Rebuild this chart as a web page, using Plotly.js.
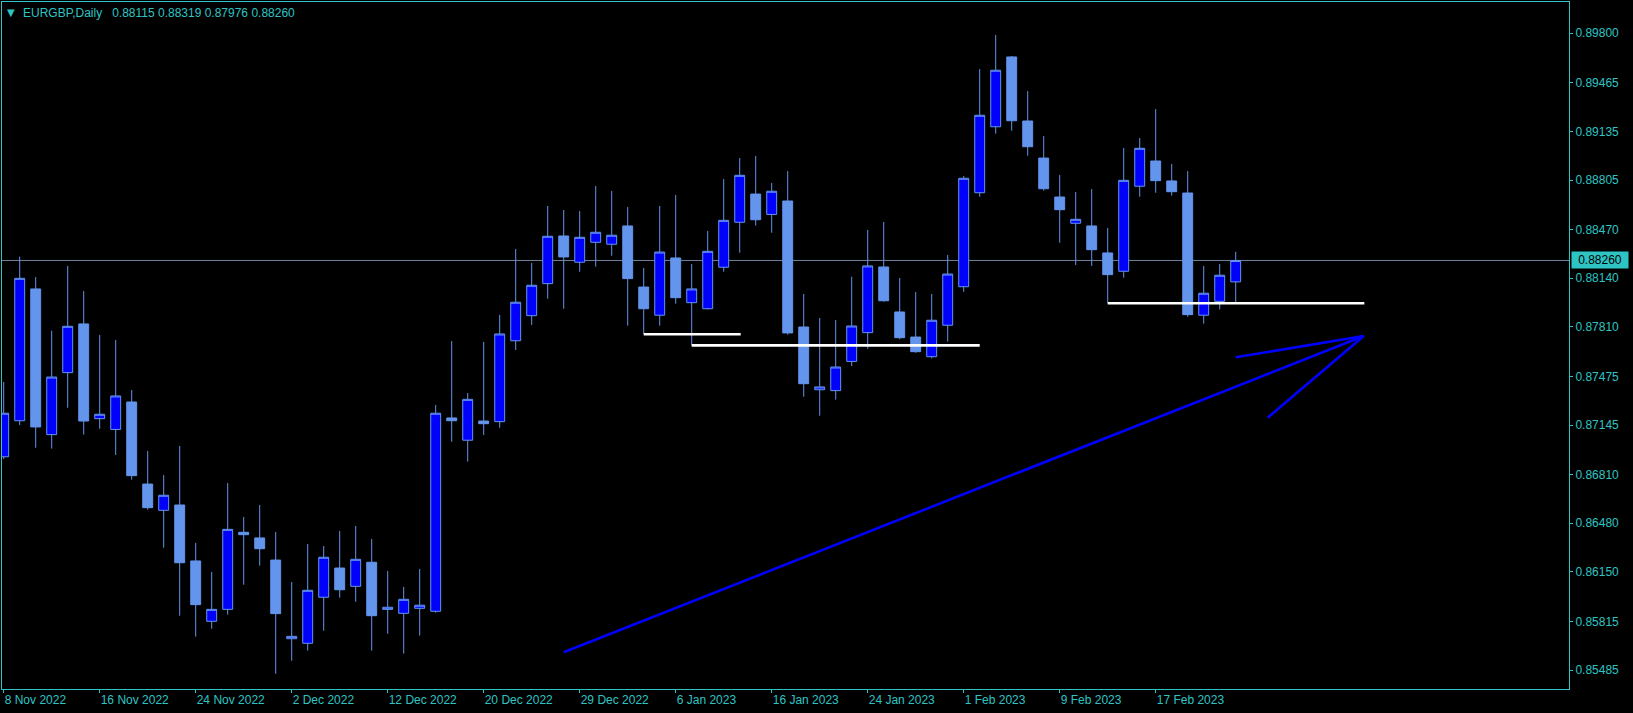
<!DOCTYPE html>
<html>
<head>
<meta charset="utf-8">
<script src="https://cdn.plot.ly/plotly-3.0.1.min.js"></script>
<style>
html,body{margin:0;padding:0;background:#000;overflow:hidden}
#chart{width:1633px;height:713px}
</style>
</head>
<body>
<div id="chart"></div>
<script>
// ---------------- DATA ----------------
const symbol = "EURGBP";
const timeframe = "Daily";

// date labels shown on the time axis (every 6th daily bar, bar 0 = 8 Nov 2022)
const dateTickBars = [0, 6, 12, 18, 24, 30, 36, 42, 48, 54, 60, 66, 72];
const dateTickLabels = ["8 Nov 2022", "16 Nov 2022", "24 Nov 2022", "2 Dec 2022", "12 Dec 2022",
  "20 Dec 2022", "29 Dec 2022", "6 Jan 2023", "16 Jan 2023", "24 Jan 2023",
  "1 Feb 2023", "9 Feb 2023", "17 Feb 2023"];

// price scale labels
const priceTicks = [0.89800, 0.89465, 0.89135, 0.88805, 0.88470, 0.88140, 0.87810,
  0.87475, 0.87145, 0.86810, 0.86480, 0.86150, 0.85815, 0.85485];

// daily OHLC, EURGBP, 8 Nov 2022 .. 21 Feb 2023
const open = [0.86930, 0.87174, 0.88067, 0.87080, 0.87500, 0.87830, 0.87188, 0.87115, 0.87301, 0.86745,
  0.86567, 0.86603, 0.86224, 0.85815, 0.85896, 0.86418, 0.86380, 0.86230, 0.85697, 0.85666,
  0.85978, 0.86176, 0.86052, 0.86215, 0.85896, 0.85869, 0.85903, 0.85883, 0.87193, 0.87042,
  0.87172, 0.87168, 0.87716, 0.87886, 0.88103, 0.88426, 0.88248, 0.88383, 0.88370, 0.88494,
  0.88080, 0.87889, 0.88277, 0.87974, 0.87933, 0.88214, 0.88519, 0.88710, 0.88572, 0.88663,
  0.87809, 0.87384, 0.87378, 0.87576, 0.87771, 0.88216, 0.87911, 0.87741, 0.87608, 0.87821,
  0.88082, 0.88719, 0.89166, 0.89639, 0.89205, 0.88954, 0.88690, 0.88512, 0.88494, 0.88311,
  0.88187, 0.88763, 0.88934, 0.88799, 0.88717, 0.87889, 0.87983, 0.88115];
const high = [0.87437, 0.88286, 0.88148, 0.87784, 0.88223, 0.88053, 0.87755, 0.87721, 0.87382, 0.86969,
  0.86806, 0.87003, 0.86346, 0.86149, 0.86752, 0.86522, 0.86603, 0.86420, 0.86081, 0.86339,
  0.86325, 0.86427, 0.86461, 0.86373, 0.86156, 0.86048, 0.86170, 0.87281, 0.87714, 0.87362,
  0.87708, 0.87891, 0.88338, 0.88243, 0.88629, 0.88602, 0.88595, 0.88765, 0.88731, 0.88622,
  0.88209, 0.88629, 0.88704, 0.88236, 0.88460, 0.88812, 0.88954, 0.88968, 0.88785, 0.88866,
  0.88033, 0.87870, 0.87857, 0.88150, 0.88467, 0.88521, 0.88141, 0.88046, 0.88033, 0.88297,
  0.88832, 0.89557, 0.89788, 0.89646, 0.89408, 0.89103, 0.88839, 0.88724, 0.88744, 0.88480,
  0.89022, 0.89090, 0.89286, 0.88914, 0.88866, 0.88223, 0.88236, 0.88319];
const low = [0.86915, 0.87145, 0.86991, 0.86985, 0.87262, 0.87080, 0.87120, 0.86942, 0.86775, 0.86571,
  0.86314, 0.85853, 0.85711, 0.85765, 0.85860, 0.86063, 0.86192, 0.85460, 0.85548, 0.85616,
  0.85751, 0.85975, 0.85948, 0.85616, 0.85731, 0.85596, 0.85718, 0.85873, 0.87032, 0.86897,
  0.87077, 0.87127, 0.87653, 0.87823, 0.88001, 0.87933, 0.88184, 0.88218, 0.88292, 0.87818,
  0.87762, 0.87818, 0.87967, 0.87685, 0.87928, 0.88184, 0.88313, 0.88496, 0.88448, 0.87758,
  0.87337, 0.87208, 0.87317, 0.87545, 0.87662, 0.87981, 0.87726, 0.87635, 0.87597, 0.87710,
  0.88048, 0.88692, 0.89119, 0.89139, 0.88970, 0.88733, 0.88380, 0.88229, 0.88223, 0.87970,
  0.88143, 0.88692, 0.88719, 0.88699, 0.87879, 0.87832, 0.87929, 0.87976];
const close = [0.87225, 0.88139, 0.87132, 0.87470, 0.87814, 0.87172, 0.87218, 0.87342, 0.86802, 0.86585,
  0.86669, 0.86212, 0.85928, 0.85896, 0.86438, 0.86402, 0.86307, 0.85867, 0.85713, 0.86025,
  0.86249, 0.86029, 0.86235, 0.85853, 0.85910, 0.85964, 0.85924, 0.87225, 0.87174, 0.87319,
  0.87154, 0.87762, 0.87977, 0.88092, 0.88424, 0.88284, 0.88417, 0.88451, 0.88431, 0.88137,
  0.87933, 0.88317, 0.88008, 0.88067, 0.88322, 0.88532, 0.88837, 0.88536, 0.88729, 0.87769,
  0.87425, 0.87403, 0.87538, 0.87816, 0.88223, 0.87987, 0.87737, 0.87642, 0.87855, 0.88168,
  0.88817, 0.89244, 0.89549, 0.89207, 0.89031, 0.88746, 0.88604, 0.88539, 0.88333, 0.88164,
  0.88803, 0.89020, 0.88801, 0.88726, 0.87893, 0.88038, 0.88160, 0.88260];

// hand-drawn support lines (bar index from/to, price)
const supportFrom = [40, 43, 69];
const supportTo = [46.06, 61.0, 85.04];
const supportPrice = [0.87760, 0.87685, 0.87970];

// hand-drawn arrow (bar index, price)
const arrowShaftBars = [35, 85];
const arrowShaftPrices = [0.85605, 0.87748];
const arrowHeadBars = [77, 85, 79];
const arrowHeadPrices = [0.87604, 0.87748, 0.87195];

// ---------------- STYLE ----------------
const FG = "#2ec4c4";
const WICK = "#6495ed";
const BULL = "#0000ff";
const FONT = "Liberation Sans, Arial, sans-serif";

const barIndex = close.map((_, i) => i);
const last = close.length - 1;
const fmt = v => v.toFixed(5);

const traces = [
  {
    type: "candlestick",
    x: barIndex, open: open, high: high, low: low, close: close,
    increasing: {line: {color: WICK, width: 1}, fillcolor: BULL},
    decreasing: {line: {color: WICK, width: 1}, fillcolor: WICK},
    whiskerwidth: 0,
    hoverinfo: "skip",
    showlegend: false
  }
];
supportFrom.forEach((f, k) => {
  traces.push({
    type: "scatter", mode: "lines",
    x: [f, supportTo[k]], y: [supportPrice[k], supportPrice[k]],
    line: {color: "#ffffff", width: 2.6}, hoverinfo: "skip", showlegend: false
  });
});
traces.push({
  type: "scatter", mode: "lines", x: arrowShaftBars, y: arrowShaftPrices,
  line: {color: "#0000ff", width: 2.6}, hoverinfo: "skip", showlegend: false
});
traces.push({
  type: "scatter", mode: "lines", x: arrowHeadBars, y: arrowHeadPrices,
  line: {color: "#0000ff", width: 2.6}, hoverinfo: "skip", showlegend: false
});

const layout = {
  width: 1633, height: 713,
  margin: {l: 2, r: 64, t: 2, b: 24, pad: 0},
  paper_bgcolor: "#000000",
  plot_bgcolor: "#000000",
  showlegend: false,
  boxgap: 0.38,
  boxgroupgap: 0,
  xaxis: {
    range: [-0.106, 97.83],
    tickmode: "array", tickvals: dateTickBars, ticktext: dateTickLabels,
    ticks: "outside", ticklen: 3, tickcolor: FG, tickwidth: 1,
    ticklabelposition: "outside right",
    tickfont: {family: FONT, size: 12, color: FG},
    showgrid: false, zeroline: false,
    showline: true, linecolor: FG, linewidth: 1, mirror: true,
    rangeslider: {visible: false}, fixedrange: true
  },
  yaxis: {
    side: "right",
    range: [0.853563, 0.900114],
    tickmode: "array", tickvals: priceTicks, ticktext: priceTicks.map(fmt),
    ticks: "outside", ticklen: 3, tickcolor: FG, tickwidth: 1,
    tickfont: {family: FONT, size: 12, color: FG},
    showgrid: false, zeroline: false,
    showline: true, linecolor: FG, linewidth: 1, mirror: true,
    fixedrange: true
  },
  shapes: [
    {type: "line", xref: "paper", x0: 0, x1: 1, yref: "y", y0: close[last], y1: close[last],
     line: {color: "#6f819c", width: 1}, layer: "below"}
  ],
  annotations: [
    {xref: "paper", yref: "y", x: 1, y: close[last], xanchor: "left", yanchor: "middle",
     xshift: 2, text: fmt(close[last]), showarrow: false, bgcolor: FG, borderpad: 1,
     width: 54, align: "center",
     font: {family: FONT, size: 12, color: "#000000"}},
    {xref: "paper", yref: "paper", x: 0, y: 1, xanchor: "center", yanchor: "middle",
     xshift: 9, yshift: -10, text: "▼", showarrow: false,
     font: {family: "DejaVu Sans", size: 10, color: FG}},
    {xref: "paper", yref: "paper", x: 0, y: 1, xanchor: "left", yanchor: "middle",
     xshift: 19, yshift: -10.5,
     text: symbol + "," + timeframe + "&nbsp;&nbsp;&nbsp;" + [open[last], high[last], low[last], close[last]].map(fmt).join(" "),
     showarrow: false, font: {family: FONT, size: 12, color: FG}}
  ]
};

Plotly.newPlot("chart", traces, layout, {staticPlot: true, displayModeBar: false});
</script>
</body>
</html>
